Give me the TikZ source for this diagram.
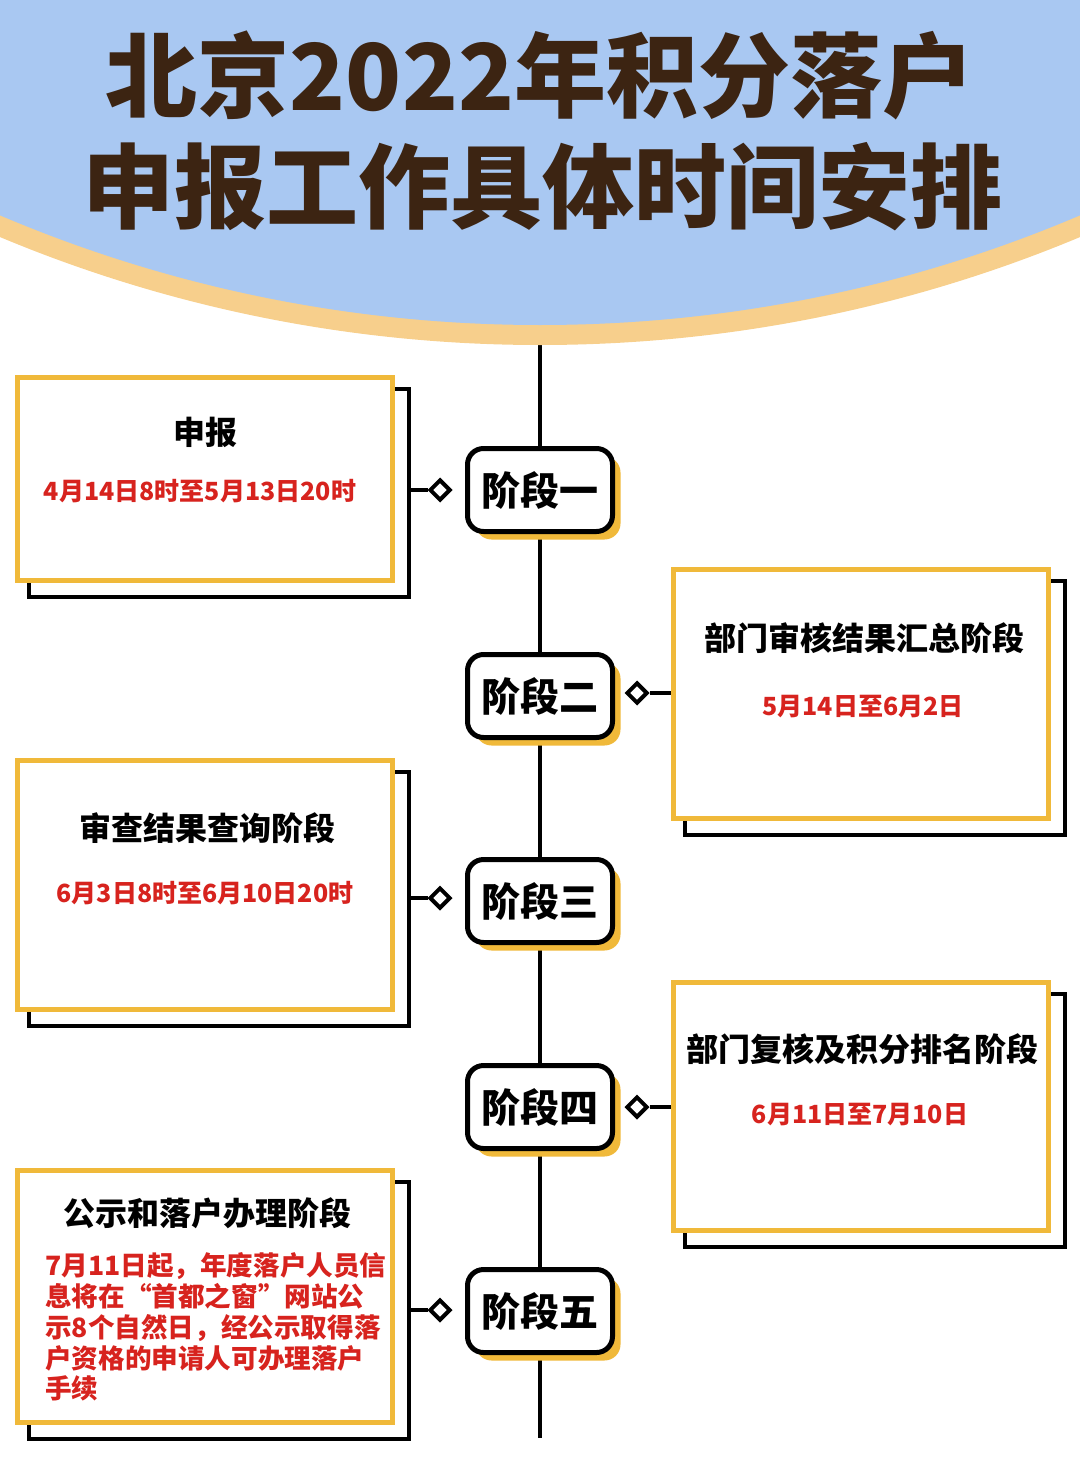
\documentclass[tikz,border=0pt]{standalone}
\usepackage{fontspec}
\newfontfamily\cjk{Noto Sans CJK SC}
\newfontfamily\cjkblack{Noto Sans CJK SC Black}
\usetikzlibrary{shapes.geometric,shadows,backgrounds}
\definecolor{hdrblue}{RGB}{169,200,242}
\definecolor{hdrorange}{RGB}{247,207,140}
\definecolor{boxyellow}{RGB}{240,185,58}
\definecolor{titlebrown}{RGB}{60,36,18}
\definecolor{datered}{RGB}{215,35,30}
\begin{document}
\begin{tikzpicture}[x=0.5pt,y=-0.5pt,
  stagebox/.style={draw=black,line width=2.5pt,rounded corners=8pt,fill=white,
    minimum width=72.5pt,minimum height=41.5pt,inner sep=0pt,
    font=\cjkblack\fontsize{19.5pt}{20pt}\selectfont,
    drop shadow={shadow xshift=4pt,shadow yshift=-4pt,fill=boxyellow,opacity=1}},
  infobox/.style={draw=boxyellow,line width=2.5pt,fill=white,inner sep=0pt,minimum width=187.5pt},
  frame/.style={draw=black,line width=2pt},
  boxtitle/.style={font=\cjkblack\fontsize{16pt}{17pt}\selectfont,text=black},
  datetext/.style={text=datered,font=\cjk\bfseries\fontsize{12.5pt}{13pt}\selectfont},
  bodytext/.style={text=datered,font=\cjk\bfseries\fontsize{13.3pt}{15.4pt}\selectfont,align=left,inner sep=0pt},
  dia/.style={diamond,draw=black,fill=white,line width=2pt,minimum width=10.5pt,minimum height=10.5pt,inner sep=0pt},
  spine/.style={draw=black,line width=2pt},
  link/.style={draw=black,line width=2pt},
  titletext/.style={font=\cjkblack\fontsize{46pt}{48pt}\selectfont,text=titlebrown,inner sep=0pt}
]
\useasboundingbox (0,0) rectangle (1080,1461);

% header
\begin{scope}
\clip (0,0) rectangle (1080,1461);
\fill[hdrorange] (540,-1055) circle (1400);
\fill[hdrblue] (540,-1055) circle (1380);
\end{scope}
\node[titletext] (t1) at (540,75) {北京2022年积分落户};
\node[titletext] (t2) at (542,187) {申报工作具体时间安排};

% stages
\node[stagebox] (s1) at (540,490) {阶段一};
\node[stagebox] (s2) at (540,696) {阶段二};
\node[stagebox] (s3) at (540,901) {阶段三};
\node[stagebox] (s4) at (540,1107) {阶段四};
\node[stagebox] (s5) at (540,1311) {阶段五};

% info boxes
\node[infobox,minimum height=101.5pt] (b1) at (205,479) {};
\node[infobox,minimum height=124.5pt] (b2) at (861,694) {};
\node[infobox,minimum height=124.5pt] (b3) at (205,885) {};
\node[infobox,minimum height=124pt] (b4) at (861,1106.5) {};
\node[infobox,minimum height=126pt] (b5) at (205,1296.5) {};

\node[boxtitle] (b1h) at (205,432) {申报};
\node[datetext] (b1d) at (200,491) {4月14日8时至5月13日20时};
\node[boxtitle] (b2h) at (864,638) {部门审核结果汇总阶段};
\node[datetext] (b2d) at (863,707) {5月14日至6月2日};
\node[boxtitle] (b3h) at (207,828) {审查结果查询阶段};
\node[datetext] (b3d) at (205,893) {6月3日8时至6月10日20时};
\node[boxtitle] (b4h) at (862,1049) {部门复核及积分排名阶段};
\node[datetext] (b4d) at (860,1115) {6月11日至7月10日};
\node[boxtitle] (b5h) at (207,1213) {公示和落户办理阶段};
\node[bodytext,anchor=west] (b5t) at (45,1327) {7月11日起，年度落户人员信\\息将在“首都之窗”网站公\\示8个自然日，经公示取得落\\户资格的申请人可办理落户\\手续};

% diamonds and connectors
\node[dia] (d1) at (440,490) {};
\node[dia] (d2) at (637,693) {};
\node[dia] (d3) at (440,898) {};
\node[dia] (d4) at (637,1107) {};
\node[dia] (d5) at (440,1310) {};
\coordinate (c1) at (410,490);
\coordinate (c3) at (410,898);
\coordinate (c5) at (410,1310);
\coordinate (top) at (540,340);
\coordinate (bot) at (540,1438);

\begin{scope}[on background layer]
\foreach \b in {b1,b2,b3,b4,b5}{
  \draw[frame] ([shift={(14,14)}]\b.north west) rectangle ([shift={(14,14)}]\b.south east);
}
\draw[spine] (top) -- (s1) -- (s2) -- (s3) -- (s4) -- (s5) -- (bot);
\end{scope}
\draw[link] (c1) -- (d1);
\draw[link] (c3) -- (d3);
\draw[link] (c5) -- (d5);
\draw[link] (d2) -- (b2.west |- d2);
\draw[link] (d4) -- (b4.west |- d4);
\end{tikzpicture}
\end{document}
